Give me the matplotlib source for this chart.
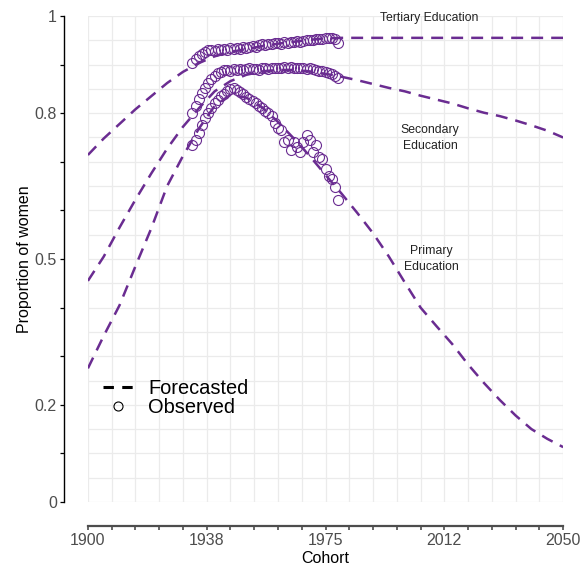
import matplotlib
matplotlib.use('Agg')
import matplotlib.pyplot as plt
from matplotlib.lines import Line2D
import numpy as np

plt.rcParams['font.family'] = ['Liberation Sans', 'DejaVu Sans']
plt.rcParams['lines.scale_dashes'] = False

# Forecasted proportions (every 5 years, 1900-2050)
forecast_years = list(range(1900, 2051, 5))
tertiary_forecast = [0.714, 0.748, 0.778, 0.808, 0.835, 0.862, 0.885, 0.903, 0.917, 0.926,
                     0.932, 0.938, 0.943, 0.947, 0.951, 0.954, 0.955, 0.955, 0.955, 0.955,
                     0.955, 0.955, 0.955, 0.955, 0.955, 0.955, 0.955, 0.955, 0.955, 0.955, 0.955]
secondary_forecast = [0.455, 0.505, 0.565, 0.622, 0.676, 0.727, 0.772, 0.810, 0.845, 0.866,
                      0.879, 0.886, 0.889, 0.889, 0.886, 0.881, 0.875, 0.868, 0.860, 0.852,
                      0.845, 0.836, 0.828, 0.820, 0.810, 0.801, 0.794, 0.785, 0.775, 0.764, 0.750]
primary_forecast = [0.275, 0.342, 0.405, 0.485, 0.563, 0.650, 0.712, 0.768, 0.815, 0.838,
                    0.832, 0.812, 0.782, 0.748, 0.712, 0.673, 0.635, 0.595, 0.553, 0.505,
                    0.452, 0.400, 0.362, 0.325, 0.283, 0.245, 0.210, 0.178, 0.150, 0.130, 0.113]

# Observed proportions by birth cohort
observed_years = list(range(1933, 1980))
tertiary_observed = [0.903, 0.912, 0.918, 0.922, 0.926, 0.929, 0.931, 0.928, 0.932, 0.930,
                     0.933, 0.931, 0.934, 0.932, 0.935, 0.933, 0.936, 0.934, 0.936, 0.938,
                     0.937, 0.940, 0.942, 0.941, 0.943, 0.942, 0.944, 0.945, 0.943, 0.946,
                     0.945, 0.947, 0.946, 0.948, 0.947, 0.949, 0.950, 0.951, 0.950, 0.952,
                     0.953, 0.952, 0.954, 0.955, 0.954, 0.953, 0.945]
secondary_observed = [0.800, 0.815, 0.830, 0.842, 0.852, 0.862, 0.870, 0.877, 0.882, 0.885,
                      0.888, 0.889, 0.887, 0.890, 0.889, 0.891, 0.889, 0.890, 0.892, 0.890,
                      0.891, 0.889, 0.892, 0.893, 0.891, 0.893, 0.892, 0.894, 0.893, 0.895,
                      0.894, 0.896, 0.893, 0.894, 0.892, 0.893, 0.891, 0.892, 0.890, 0.889,
                      0.887, 0.886, 0.884, 0.882, 0.880, 0.877, 0.872]
primary_observed = [0.735, 0.745, 0.760, 0.775, 0.790, 0.800, 0.810, 0.820, 0.828, 0.835,
                    0.840, 0.845, 0.850, 0.852, 0.848, 0.843, 0.840, 0.833, 0.830, 0.825,
                    0.820, 0.815, 0.810, 0.805, 0.800, 0.795, 0.780, 0.770, 0.765, 0.740,
                    0.745, 0.725, 0.740, 0.730, 0.720, 0.740, 0.755, 0.745, 0.720, 0.735,
                    0.710, 0.705, 0.685, 0.670, 0.665, 0.648, 0.622]

x_breaks = [1900, 1937.5, 1975, 2012.5, 2050]
x_labels = ['1900', '1938', '1975', '2012', '2050']
y_breaks = [0, 0.2, 0.5, 0.8, 1]
y_labels = ['0', '0.2', '0.5', '0.8', '1']

purple = '#6A2C91'
grid_col = '#EBEBEB'
dash = (8.6, 5.8)

fig = plt.figure(figsize=(5.86, 5.67), dpi=100)
ax = fig.add_axes([0.150, 0.1146, 0.811, 0.8572])
ax.set_xlim(1900, 2050)
ax.set_ylim(0, 1)

# background grid
for gx in np.arange(1900, 2050.1, 7.5):
    ax.axvline(gx, color=grid_col, lw=0.9, zorder=0)
for gy in np.arange(0, 1.001, 0.05):
    ax.axhline(gy, color=grid_col, lw=0.9, zorder=0)

for fc in [tertiary_forecast, secondary_forecast, primary_forecast]:
    ax.plot(forecast_years, fc, color=purple, lw=1.8, dashes=dash, zorder=2)
for ob in [tertiary_observed, secondary_observed, primary_observed]:
    ax.plot(observed_years, ob, ls='none', marker='o', ms=7.2, mfc='none',
            mec=purple, mew=0.8, zorder=3)

ax.text(2007.7, 0.995, 'Tertiary Education', ha='center', va='center', fontsize=8.8, color='#222222')
ax.text(2008, 0.749, 'Secondary\nEducation', ha='center', va='center', fontsize=8.8,
        color='#222222', linespacing=1.45)
ax.text(2008.3, 0.5, 'Primary\nEducation', ha='center', va='center', fontsize=8.8,
        color='#222222', linespacing=1.45)

# axes styling
for s in ['top', 'right']:
    ax.spines[s].set_visible(False)
ax.spines['left'].set_position(('outward', 17.3))
ax.spines['bottom'].set_position(('outward', 17.3))
ax.spines['left'].set_color('black')
ax.spines['left'].set_linewidth(1.0)
ax.spines['bottom'].set_color('#4D4D4D')
ax.spines['bottom'].set_linewidth(1.6)

ax.set_xticks(x_breaks)
ax.set_xticklabels(x_labels)
ax.set_xticks(np.arange(1900, 2050.1, 7.5), minor=True)
ax.set_yticks(y_breaks)
ax.set_yticklabels(y_labels)
ax.set_yticks(np.arange(0, 1.001, 0.1), minor=True)
ax.tick_params(axis='x', which='both', length=3, width=1.2, color='#4D4D4D',
               labelsize=11.5, labelcolor='#4D4D4D', pad=2)
ax.tick_params(axis='y', which='both', length=3, width=0.9, color='black',
               labelsize=11.5, labelcolor='#4D4D4D', pad=2)

ax.set_xlabel('Cohort', fontsize=11.5, color='black', labelpad=2)
ax.set_ylabel('Proportion of women', fontsize=11.5, color='black', labelpad=2)

handles = [Line2D([], [], color='black', lw=2.2, dashes=(7.5, 6)),
           Line2D([], [], ls='none', marker='o', ms=6.5, mfc='none', mec='black', mew=0.8)]
ax.legend(handles, ['Forecasted', 'Observed'], loc='upper left',
          bbox_to_anchor=(0.176, 0.331), bbox_transform=fig.transFigure,
          frameon=False, fontsize=14.4, handlelength=1.5, handletextpad=0.75,
          labelspacing=0.0, borderpad=0, borderaxespad=0)

fig.savefig('out.png', dpi=100)
